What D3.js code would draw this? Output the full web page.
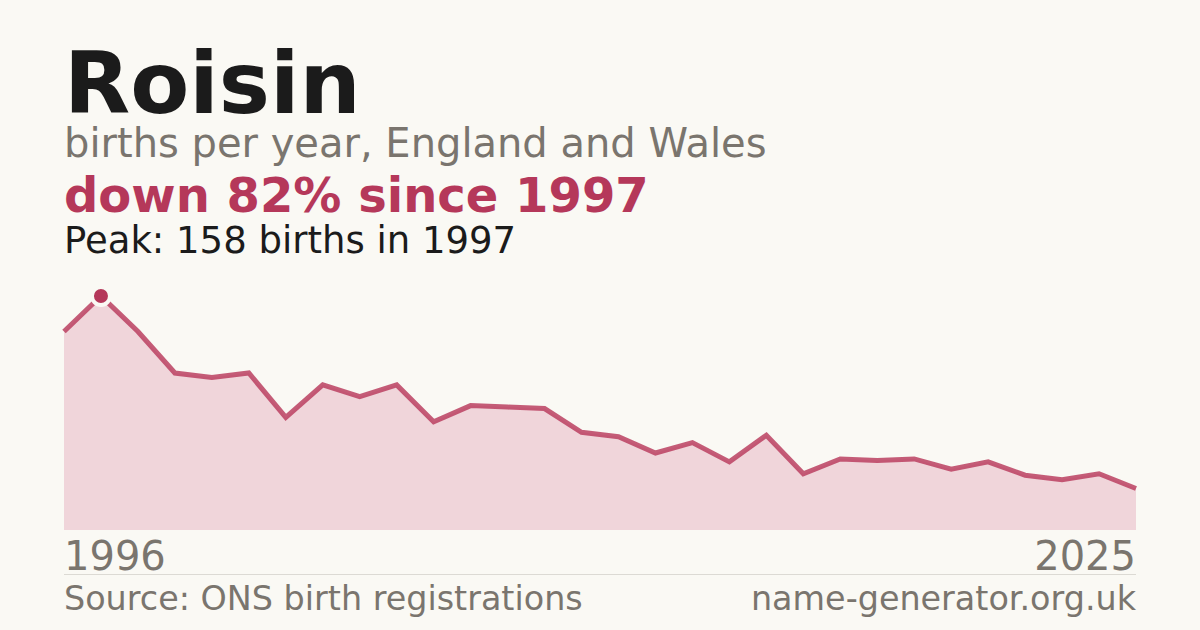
<!DOCTYPE html>
<html lang="en">
<head>
    <meta charset="utf-8" />
    <style>
        body {margin:0; background:#faf9f4;}
        text {font-family: "DejaVu Sans", sans-serif;}
    </style>
    <script src="https://cdn.jsdelivr.net/npm/d3@7"></script>
</head>
<body>
    <svg></svg>
</body>
<script>
    var width = 1200,
        height = 630;

    var name = "Roisin";
    var years = d3.range(1996, 2026);
    var births = [134, 158, 134, 106, 103, 106, 76, 98, 90, 98,
                  73, 84, 83, 82, 66, 63, 52, 59, 46, 64,
                  38, 48, 47, 48, 41, 46, 37, 34, 38, 28];
    var tickYears = [1996, 2025];

    var peakIdx = births.indexOf(d3.max(births)),
        peakYear = years[peakIdx],
        peak = births[peakIdx],
        drop = Math.round((1 - births[births.length - 1] / peak) * 100);

    var svg = d3.select("svg")
        .attr("width", width)
        .attr("height", height)

    svg.append("rect")
        .attr("width", width)
        .attr("height", height)
        .attr("fill", "#faf9f4")

    var x = d3.scaleLinear().domain(d3.extent(years)).range([64, 1136]);
    var y = d3.scaleLinear().domain([0, peak]).range([530, 296]);

    var area = d3.area()
        .x(function(d, i) {return x(years[i])})
        .y0(y(0))
        .y1(function(d) {return y(d)})

    var line = d3.line()
        .x(function(d, i) {return x(years[i])})
        .y(function(d) {return y(d)})

    svg.append("path")
        .datum(births)
        .attr("d", area)
        .attr("fill", "#f0d5da")

    svg.append("path")
        .datum(births)
        .attr("d", line)
        .attr("fill", "none")
        .attr("stroke", "#b8395b")
        .attr("stroke-opacity", 0.82)
        .attr("stroke-width", 5)
        .attr("stroke-linejoin", "miter")

    svg.append("circle")
        .attr("cx", x(peakYear))
        .attr("cy", y(peak))
        .attr("r", 9)
        .attr("fill", "#b5385a")
        .attr("stroke", "#faf9f4")
        .attr("stroke-width", 4)

    // headings
    svg.append("text").attr("x", 64).attr("y", 113)
        .attr("font-size", 86).attr("font-weight", "bold").attr("fill", "#1b1b1b")
        .text(name)
    svg.append("text").attr("x", 64).attr("y", 157)
        .attr("font-size", 40).attr("fill", "#7a756e")
        .text("births per year, England and Wales")
    svg.append("text").attr("x", 64).attr("y", 212)
        .attr("font-size", 48).attr("font-weight", "bold").attr("fill", "#b5385a")
        .text("down " + drop + "% since " + peakYear)
    svg.append("text").attr("x", 64).attr("y", 253)
        .attr("font-size", 37).attr("fill", "#1b1b1b")
        .text("Peak: " + peak + " births in " + peakYear)

    // year labels
    svg.append("g").selectAll("text")
        .data(tickYears)
      .enter().append("text")
        .attr("x", function(d) {return x(d)})
        .attr("y", 570)
        .attr("text-anchor", function(d, i) {return i == 0 ? "start" : "end"})
        .attr("font-size", 40)
        .attr("fill", "#7a756e")
        .text(function(d) {return d})

    svg.append("line")
        .attr("x1", 64).attr("x2", 1136)
        .attr("y1", 574.5).attr("y2", 574.5)
        .attr("stroke", "#dcdad4").attr("stroke-width", 1)

    svg.append("text").attr("x", 64).attr("y", 610)
        .attr("font-size", 33.4).attr("fill", "#7a756e")
        .text("Source: ONS birth registrations")
    svg.append("text").attr("x", 1136).attr("y", 610)
        .attr("font-size", 33.4).attr("fill", "#7a756e").attr("text-anchor", "end")
        .text("name-generator.org.uk")
</script>
</html>
